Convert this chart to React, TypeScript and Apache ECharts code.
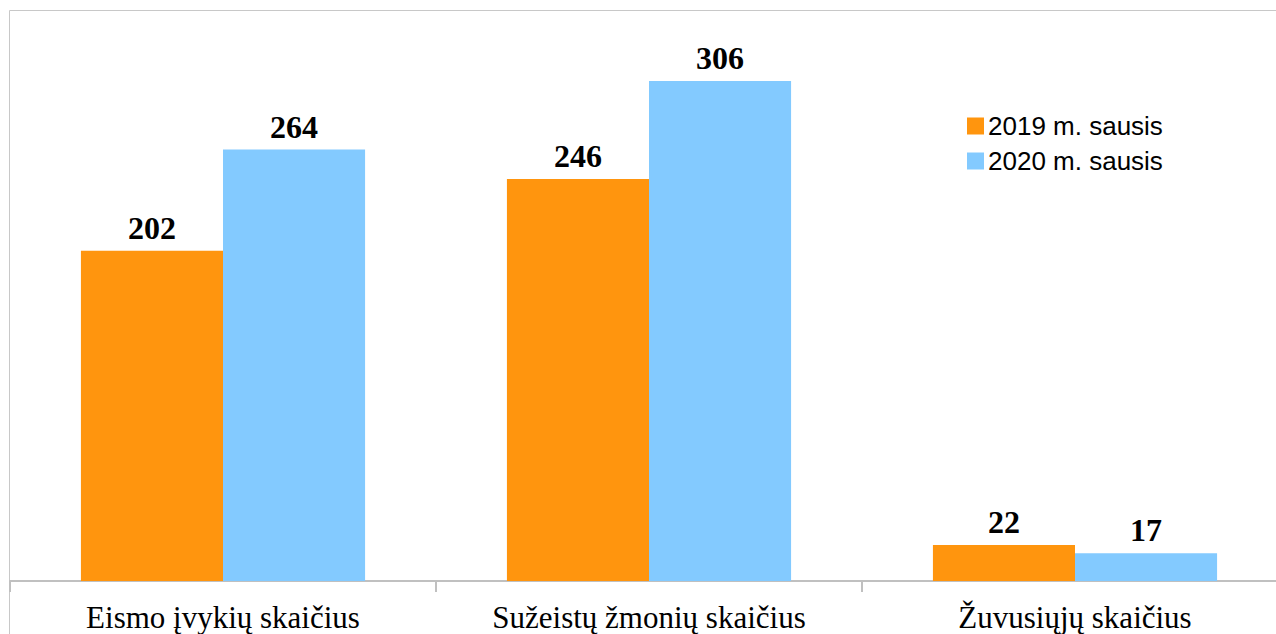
import React, { useEffect, useRef } from "react";
import * as echarts from "echarts";

const categories = ["Eismo įvykių skaičius", "Sužeistų žmonių skaičius", "Žuvusiųjų skaičius"];
const seriesNames = ["2019 m. sausis", "2020 m. sausis"];
const values2019 = [202, 246, 22];
const values2020 = [264, 306, 17];
const colors = ["#ff950e", "#83caff"];

export default function App() {
  const ref = useRef<HTMLDivElement>(null);
  useEffect(() => {
    const chart = echarts.init(ref.current!, null, { renderer: "svg" });
    const label = {
      show: true,
      position: "top",
      distance: 7,
      fontFamily: "Liberation Serif",
      fontWeight: "bold",
      fontSize: 32,
      color: "#000",
    };
    chart.setOption({
      animation: false,
      backgroundColor: "#fff",
      graphic: [
        {
          type: "rect",
          shape: { x: 9.5, y: 10.5, width: 1300, height: 700 },
          style: { fill: "none", stroke: "#c8c8c8", lineWidth: 1 },
          z: -1,
        },
      ],
      legend: {
        orient: "vertical",
        left: 962,
        top: 108,
        itemWidth: 17,
        itemHeight: 17,
        itemGap: 9,
        icon: "rect",
        textStyle: { fontFamily: "Liberation Sans", fontSize: 26, lineHeight: 26, color: "#000", padding: [0, 0, 0, -1] },
        data: seriesNames,
      },
      grid: { left: 10, top: 9, width: 1278, bottom: 634 - 581, containLabel: false },
      xAxis: {
        type: "category",
        data: categories,
        axisLine: { lineStyle: { color: "#c0c0c0", width: 2 } },
        axisTick: { show: true, length: 11, lineStyle: { color: "#c0c0c0", width: 2 } },
        axisLabel: {
          fontFamily: "Liberation Serif",
          fontSize: 31,
          color: "#000",
          margin: 21,
        },
      },
      yAxis: { type: "value", min: 0, max: 350, show: false, splitLine: { show: false } },
      series: [
        {
          name: seriesNames[0],
          type: "bar",
          data: values2019,
          itemStyle: { color: colors[0] },
          barGap: "0%",
          barCategoryGap: "33.3%",
          label,
        },
        {
          name: seriesNames[1],
          type: "bar",
          data: values2020,
          itemStyle: { color: colors[1] },
          barGap: "0%",
          barCategoryGap: "33.3%",
          label,
        },
      ],
    });
    return () => chart.dispose();
  }, []);
  return (
    <div style={{ position: "fixed", left: 0, top: 0, width: 1276, height: 634, overflow: "hidden" }}>
      <div ref={ref} style={{ width: 1300, height: 634 }} />
    </div>
  );
}
